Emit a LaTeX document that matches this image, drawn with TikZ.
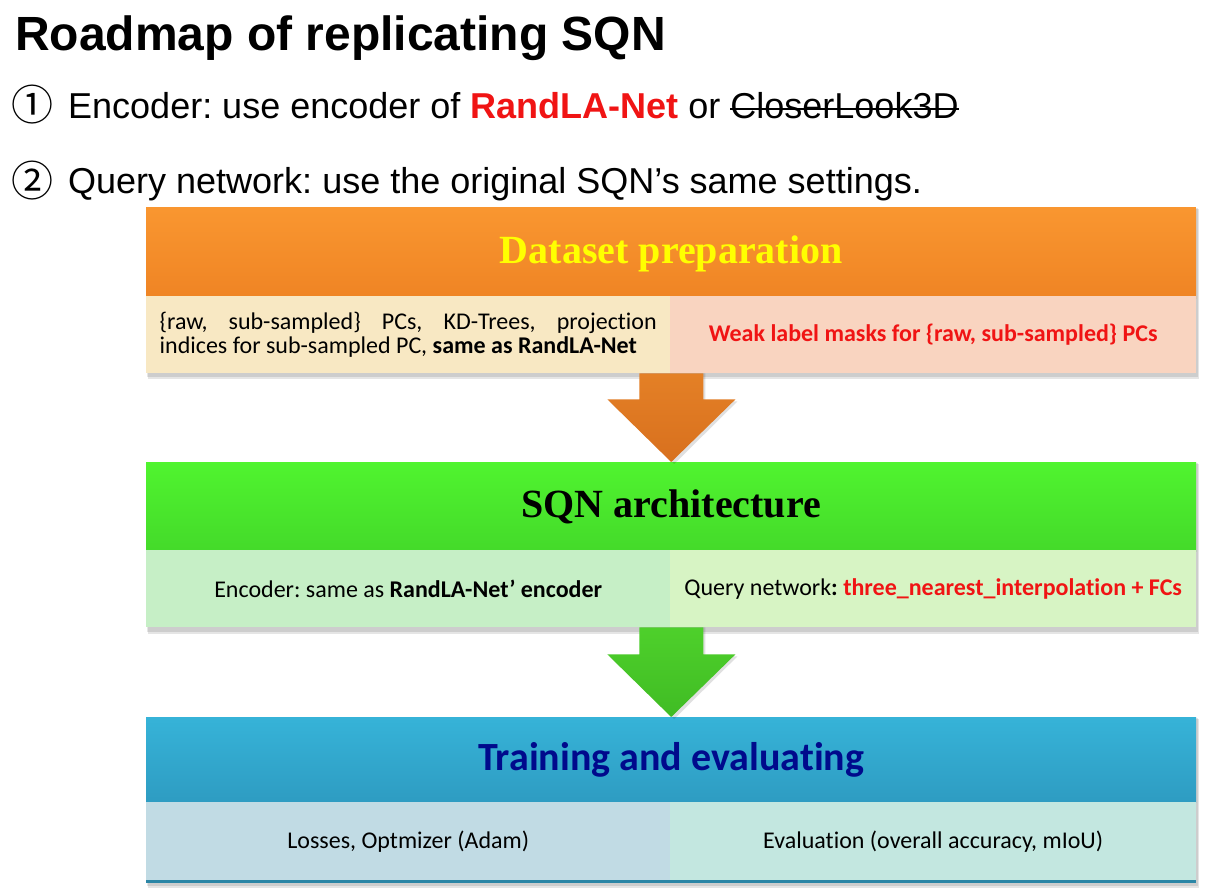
\documentclass[tikz,border=0pt]{standalone}
\usepackage{fontspec}
\setmainfont{Liberation Sans}
\newfontfamily\tnr{Liberation Serif}
\newfontfamily\calibri[Ligatures=NoCommon]{Carlito}
\newfontfamily\cjkf{Noto Sans CJK SC}
\newcommand{\mystrike}[1]{\setbox0\hbox{#1}\rlap{\rule[8.5pt]{\wd0}{1.8pt}}\box0}
\frenchspacing
\usetikzlibrary{calc}
\definecolor{orTop}{HTML}{F99630}
\definecolor{orBot}{HTML}{EF8424}
\definecolor{creamL}{HTML}{F8E8C3}
\definecolor{peachR}{HTML}{F9D4C0}
\definecolor{grTop}{HTML}{50F42F}
\definecolor{grBot}{HTML}{44DA2A}
\definecolor{grL}{HTML}{C6EFC6}
\definecolor{grR}{HTML}{D7F4C4}
\definecolor{blTop}{HTML}{36B3D8}
\definecolor{blBot}{HTML}{2E9CC2}
\definecolor{blL}{HTML}{C1DBE4}
\definecolor{blR}{HTML}{C3E7E0}
\definecolor{blLine}{HTML}{2B86A6}
\definecolor{arOrTop}{HTML}{E48026}
\definecolor{arOrBot}{HTML}{D8701E}
\definecolor{arGrTop}{HTML}{4ED02B}
\definecolor{arGrBot}{HTML}{40BC24}
\definecolor{myred}{HTML}{F01414}
\definecolor{myyellow}{HTML}{FFFF00}
\definecolor{mynavy}{HTML}{000A8C}
\tikzset{
  hdr/.style={rectangle, minimum width=1050pt, minimum height=89pt, inner sep=0pt, anchor=north west, font=\fontsize{40}{48}\selectfont},
  cellbox/.style={rectangle, minimum height=77pt, inner sep=0pt, anchor=north west, font=\calibri\fontsize{24}{26}\selectfont, align=center},
  shadowbox/.style={fill=black, opacity=0.10},
}
\begin{document}
\begin{tikzpicture}[x=1pt,y=-1pt]
\useasboundingbox (0,0) rectangle (1214,895);
\fill[white] (0,0) rectangle (1214,895);

% title and bullet lines
\node[anchor=base west, inner sep=0pt, font=\fontsize{48}{58}\selectfont\bfseries] (title) at (15,50) {Roadmap of replicating SQN};
\node[inner sep=0pt, font=\cjkf\fontsize{42}{44}\selectfont] (d1) at (32.5,105) {①};
\node[anchor=base west, inner sep=0pt, font=\fontsize{36}{44}\selectfont] (l1) at (68,118) {Encoder: use encoder of {\bfseries\color{myred}RandLA-Net} or \mystrike{CloserLook3D}};
\node[inner sep=0pt, font=\cjkf\fontsize{42}{44}\selectfont] (d2) at (32.5,181) {②};
\node[anchor=base west, inner sep=0pt, font=\fontsize{36}{44}\selectfont] (l2) at (68,193) {Query network: use the original SQN’s same settings.};

% shadows
\foreach \a/\b in {207/375, 462/630, 717/884}{
  \fill[shadowbox] (148,\a+2) rectangle (1199,\b+4);
  \fill[shadowbox] (147,\a+1) rectangle (1198,\b+2);
}

% box 1
\node[hdr, top color=orTop, bottom color=orBot] (h1) at (146,209) {\tnr\bfseries\color{myyellow}Dataset preparation};
\fill[orTop] (146,207) rectangle (1196,209);
\node[cellbox, fill=creamL, minimum width=524pt] (c1l) at (146,296) {\parbox{497pt}{\fontsize{24}{24}\selectfont\hyphenpenalty=10000 \{raw, sub-sampled\} PCs, KD-Trees, projection indices for sub-sampled PC, \textbf{same as RandLA-Net}}};
\node[cellbox, fill=peachR, minimum width=526pt] (c1r) at (670,296) {\textbf{\color{myred}Weak label masks for \{raw, sub-sampled\} PCs}};

% box 2
\node[hdr, top color=grTop, bottom color=grBot] (h2) at (146,462) {\tnr\bfseries\color{black}SQN architecture};
\node[cellbox, fill=grL, minimum width=524pt] (c2l) at (146,550) {Encoder: same as \textbf{RandLA-Net’ encoder}};
\node[cellbox, fill=grR, minimum width=526pt] (c2r) at (670,550) {Query network\textbf{: {\color{myred}three\_nearest\_interpolation + FCs}}};

% box 3
\node[hdr, minimum height=85pt, top color=blTop, bottom color=blBot] (h3) at (146,717) {\calibri\bfseries\color{mynavy}Training and evaluating};
\node[cellbox, fill=blL, minimum width=524pt, minimum height=78pt] (c3l) at (146,802) {Losses, Optmizer (Adam)};
\node[cellbox, fill=blR, minimum width=526pt, minimum height=78pt] (c3r) at (670,802) {Evaluation (overall accuracy, mIoU)};
\fill[blLine] (c3l.south west) rectangle ($(c3r.south east)+(0,3)$);

% arrows
\coordinate (a1s) at ($(c1l.south east)$);
\coordinate (a1t) at ($(h2.north west)!0.5!(h2.north east)$);
\fill[black, opacity=0.12] ($(a1s)+(-30,0)$) -- ($(a1s)+(35,0)$) -- ($(a1s)+(35,28)$) -- ($(a1s)+(67,28)$) -- ($(a1t)+(3,2)$) -- ($(a1s)+(-61,28)$) -- ($(a1s)+(-30,28)$) -- cycle;
\shade[top color=arOrTop, bottom color=arOrBot] ($(a1s)+(-31,0)$) -- ($(a1s)+(33,0)$) -- ($(a1s)+(33,26)$) -- ($(a1s)+(65,26)$) -- (a1t) -- ($(a1s)+(-63,26)$) -- ($(a1s)+(-31,26)$) -- cycle;

\coordinate (a2s) at ($(c2l.south east)$);
\coordinate (a2t) at ($(h3.north west)!0.5!(h3.north east)$);
\fill[black, opacity=0.12] ($(a2s)+(-30,0)$) -- ($(a2s)+(35,0)$) -- ($(a2s)+(35,29)$) -- ($(a2s)+(67,29)$) -- ($(a2t)+(3,2)$) -- ($(a2s)+(-61,29)$) -- ($(a2s)+(-30,29)$) -- cycle;
\shade[top color=arGrTop, bottom color=arGrBot] ($(a2s)+(-31,0)$) -- ($(a2s)+(33,0)$) -- ($(a2s)+(33,27)$) -- ($(a2s)+(65,27)$) -- (a2t) -- ($(a2s)+(-63,27)$) -- ($(a2s)+(-31,27)$) -- cycle;
\end{tikzpicture}
\end{document}
